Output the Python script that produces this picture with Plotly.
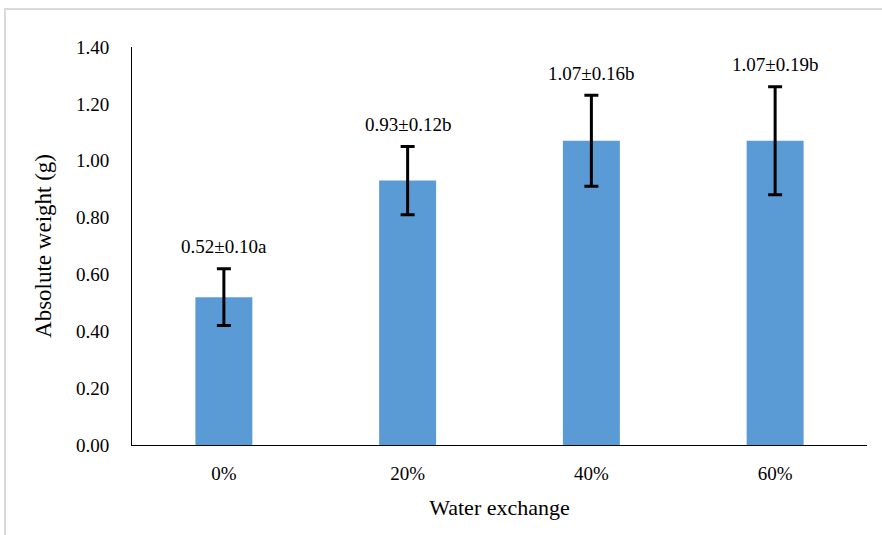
import plotly.graph_objects as go

categories = ["0%", "20%", "40%", "60%"]
means = [0.52, 0.93, 1.07, 1.07]
sds = [0.10, 0.12, 0.16, 0.19]
letters = ["a", "b", "b", "b"]
y_ticks = [0.0, 0.2, 0.4, 0.6, 0.8, 1.0, 1.2, 1.4]

FONT = "Liberation Serif"

fig = go.Figure()
fig.add_trace(go.Bar(
    x=categories, y=means,
    marker=dict(color="#5B9BD5", line=dict(width=0)),
    error_y=dict(type="data", array=sds, visible=True, color="black", thickness=3, width=7),
    width=0.31,
    hoverinfo="skip",
))

for c, m, s, l in zip(categories, means, sds, letters):
    fig.add_annotation(
        x=c, y=m + s, xref="x", yref="y",
        text=f"{m:.2f}±{s:.2f}{l}",
        showarrow=False, yanchor="middle", yshift=22,
        font=dict(family=FONT, size=19, color="black"),
    )

# outer chart-area border (light gray)
fig.add_shape(type="rect", xref="paper", yref="paper",
              x0=-0.1728, x1=1.05, y0=-0.4, y1=1.0955,
              line=dict(color="#d9d9d9", width=2), fillcolor="rgba(0,0,0,0)", layer="below")

fig.update_layout(
    width=882, height=535,
    margin=dict(l=132, r=15, t=47, b=90),
    paper_bgcolor="white", plot_bgcolor="white",
    showlegend=False,
    font=dict(family=FONT, color="black"),
    xaxis=dict(
        showline=True, linecolor="black", linewidth=1,
        showgrid=False, zeroline=False,
        ticks="outside", ticklen=11, tickcolor="rgba(0,0,0,0)",
        tickfont=dict(family=FONT, size=19, color="black"),
        title=dict(text="Water exchange", font=dict(family=FONT, size=22, color="black"), standoff=16),
    ),
    yaxis=dict(
        range=[0, 1.4],
        tickvals=y_ticks,
        tickformat=".2f",
        showline=True, linecolor="black", linewidth=1,
        showgrid=False, zeroline=False,
        ticks="outside", ticklen=18, tickcolor="rgba(0,0,0,0)",
        tickfont=dict(family=FONT, size=19, color="black"),
        title=dict(text="Absolute weight (g)", font=dict(family=FONT, size=23, color="black"), standoff=17),
    ),
)

fig.write_html(
    "out.html",
    config={"displayModeBar": False, "staticPlot": True},
    post_script="document.body.style.margin='0';document.body.style.overflow='hidden';",
)
